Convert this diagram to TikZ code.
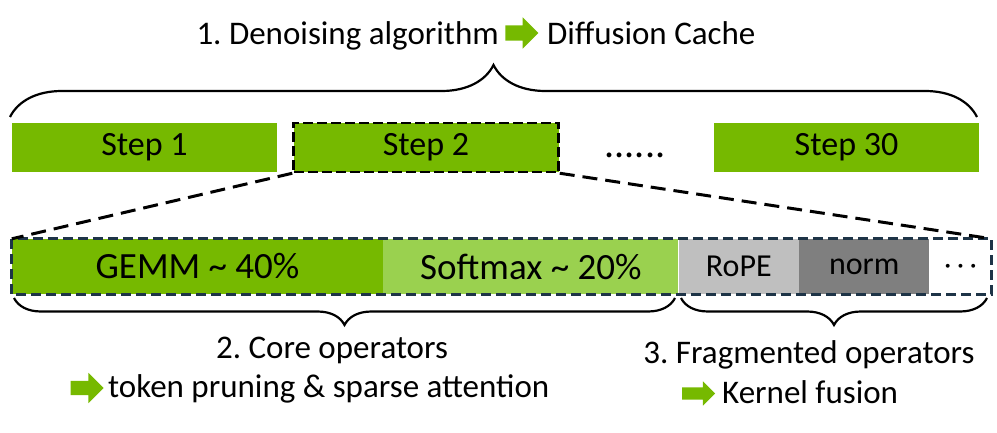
\documentclass[tikz,border=0pt]{standalone}
\usepackage{fontspec}
\setmainfont{Carlito}
\usetikzlibrary{positioning}
\usetikzlibrary{shapes.arrows}
\usetikzlibrary{decorations.pathreplacing}
\definecolor{nvgreen}{HTML}{76B900}
\definecolor{softgreen}{HTML}{9AD14F}
\definecolor{ropegray}{HTML}{BFBFBF}
\definecolor{normgray}{HTML}{7F7F7F}
\definecolor{framenavy}{HTML}{1E3447}

\begin{document}
\frenchspacing
\begin{tikzpicture}[x=1pt,y=-1pt,
    stepbox/.style={fill=nvgreen,minimum width=265pt,minimum height=49pt,inner sep=0pt,font=\fontsize{34}{40}\selectfont},
    opbox/.style={minimum height=55pt,inner sep=0pt,font=\fontsize{37}{44}\selectfont},
    txt/.style={inner sep=0pt,font=\fontsize{33}{40}\selectfont},
    garrow/.style={single arrow,fill=nvgreen,inner xsep=0pt,inner ysep=7.5pt,minimum height=33pt,single arrow head extend=8pt},
    zoomline/.style={dash pattern=on 15pt off 8pt,line width=3pt},
    curly/.style={decorate,decoration={brace,amplitude=#1},line width=2.2pt}]
          \useasboundingbox (0,0) rectangle (997,433);
          % title
          \node[txt,anchor=base east] (algo) at (499,45) {1. Denoising algorithm};
          \node[garrow] (arrDiff) at (518,33) {};
          \node[txt,anchor=base west] (cache) at (547,45) {Diffusion Cache};
          % brace over the steps
          \draw[curly=52pt] (10,117) -- (977,117);
          % steps
          \node[stepbox] (step1) at (144.5,147.5) {Step 1};
          \node[stepbox,draw,dash pattern=on 10pt off 4pt,line width=2.5pt] (step2) at (426,147.5) {Step 2};
          \node[txt,font=\fontsize{40}{40}\selectfont] (dots) at (635,155) {......};
          \node[stepbox] (step30) at (846.5,147.5) {Step 30};
          % operators of one step
          \node[opbox,fill=nvgreen,minimum width=371pt] (gemm) at (197.5,266.5) {GEMM \textasciitilde\ 40\%};
          \node[opbox,fill=softgreen,minimum width=295pt,right=0pt of gemm] (softmax) {Softmax \textasciitilde\ 20\%};
          \node[opbox,fill=ropegray,minimum width=120pt,font=\fontsize{32}{40}\selectfont,right=0pt of softmax] (rope) {RoPE};
          \node[opbox,fill=normgray,minimum width=130pt,font=\fontsize{32}{40}\selectfont,right=0pt of rope] (norm) {norm};
          \node[opbox,minimum width=62pt,font=\fontsize{30}{36}\selectfont\boldmath,right=0pt of norm] (rest) {$\cdots$};
          \draw[framenavy,line width=2.7pt,dash pattern=on 10pt off 5pt] (gemm.north west) rectangle (rest.south east);
          % zoom lines from step 2
          \draw[zoomline] (step2.south west) -- (gemm.north west);
          \draw[zoomline] (step2.south east) -- (rest.north east);
          % braces under the operators
          \draw[curly=27pt,decoration={mirror}] (14,298) -- (675,298);
          \draw[curly=27pt,decoration={mirror}] (681,298) -- (987,298);
          % core operators
          \node[txt,anchor=base] (core) at (332,358) {2. Core operators};
          \node[garrow,inner ysep=7pt,single arrow head extend=8pt] (arrCore) at (83.5,388) {};
          \node[txt,anchor=base west] (prune) at (108,397) {token pruning \& sparse attention};
          % fragmented operators
          \node[txt,anchor=base] (frag) at (809,363) {3. Fragmented operators};
          \node[garrow,inner ysep=6pt,single arrow head extend=6pt] (arrFrag) at (695.5,393.5) {};
          \node[txt,anchor=base west] (fuse) at (722,403) {Kernel fusion};
        \end{tikzpicture}
\end{document}
